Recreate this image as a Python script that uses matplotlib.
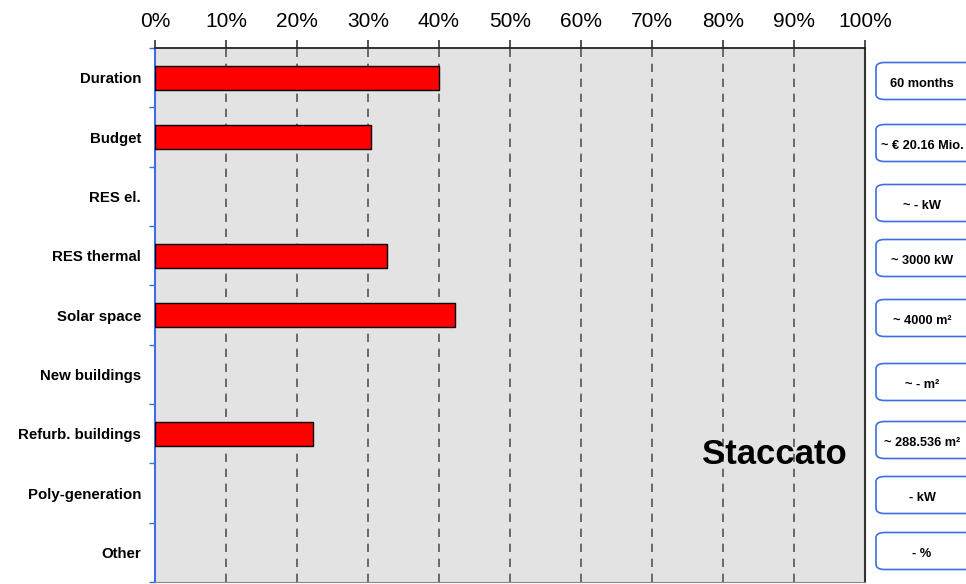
import matplotlib
matplotlib.use('Agg')
import matplotlib.pyplot as plt
from matplotlib.patches import FancyBboxPatch

plt.rcParams['font.family'] = ['Liberation Sans', 'DejaVu Sans']

categories = ['Duration', 'Budget', 'RES el.', 'RES thermal', 'Solar space',
              'New buildings', 'Refurb. buildings', 'Poly-generation', 'Other']
shares = [40.0, 30.4, 0, 32.7, 42.2, 0, 22.2, 0, 0]
box_labels = ['60 months', '~ € 20.16 Mio.', '~ - kW', '~ 3000 kW', '~ 4000 m²',
              '~ - m²', '~ 288.536 m²', '- kW', '- %']
x_ticks = [0, 10, 20, 30, 40, 50, 60, 70, 80, 90, 100]
project = 'Staccato'

W, H = 966, 584
fig = plt.figure(figsize=(W / 100, H / 100), dpi=100)
ax = fig.add_axes([155 / W, 2 / H, 710 / W, 534 / H])
ax.set_facecolor('#e3e3e3')

n = len(categories)
ypos = list(range(n))
# empty categories get no bar at all
shown = [(y, v) for y, v in zip(ypos, shares) if v > 0]
ax.barh([s[0] for s in shown], [s[1] for s in shown], height=0.4,
        color='#ff0000', edgecolor='black', linewidth=1, zorder=3)

ax.set_xlim(0, 100)
ax.set_ylim(n - 0.5, -0.5)
ax.set_xticks(x_ticks)
ax.set_xticklabels([f'{t}%' for t in x_ticks], fontsize=15)
ax.xaxis.tick_top()
ax.tick_params(axis='x', direction='out', length=6, width=1.2, color='#333333', pad=6)

ax.set_yticks(ypos)
ax.set_yticklabels(categories, fontsize=10.8, fontweight='bold')
ax.tick_params(axis='y', length=0, pad=10)
ax.set_yticks([i - 0.5 for i in range(n + 1)], minor=True)
ax.tick_params(axis='y', which='minor', length=4, width=1, color='#3d6ee6', direction='out')

for t in x_ticks[1:-1]:
    ax.axvline(t, color='#555555', linestyle=(0, (5, 4)), linewidth=1.2, zorder=1)

ax.spines['left'].set_color('#3d6ee6')
ax.spines['left'].set_linewidth(1.5)
ax.spines['top'].set_color('#222222')
ax.spines['top'].set_linewidth(1.3)
ax.spines['right'].set_color('#333333')
ax.spines['right'].set_linewidth(1.5)
ax.spines['bottom'].set_color('#888888')

fig.text(774 / W, (H - 455) / H, project, fontsize=25, fontweight='bold',
         ha='center', va='center')

# side boxes, pixel centres
box_y = [81, 143, 203, 258, 318, 382, 440, 495, 551]
for yc, lab in zip(box_y, box_labels):
    x0, w, h = 876, 100, 37
    y0 = H - yc - h / 2
    box = FancyBboxPatch((x0 / W, y0 / H), w / W, h / H,
                         boxstyle='round,pad=0,rounding_size=0.009',
                         transform=fig.transFigure, facecolor='white',
                         edgecolor='#3d6ee6', linewidth=1.2)
    fig.patches.append(box)
    fig.text(922 / W, (H - yc - 3) / H, lab, fontsize=9.2, fontweight='bold',
             ha='center', va='center')

fig.savefig('out.png', dpi=100)
